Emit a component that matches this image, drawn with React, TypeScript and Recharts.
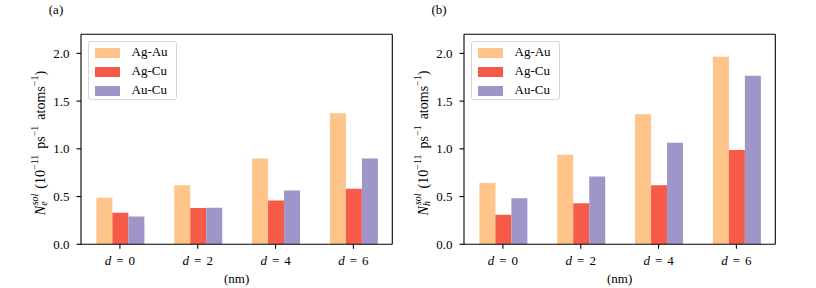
import React from "react";
import { BarChart, Bar, XAxis, YAxis } from "recharts";

const categories = ["0", "2", "4", "6"];
const seriesNames = ["Ag-Au", "Ag-Cu", "Au-Cu"];
const yTicks = [0, 0.5, 1.0, 1.5, 2.0];

// panel (a): electrons
const agAuE = [0.487, 0.619, 0.9, 1.374];
const agCuE = [0.33, 0.379, 0.459, 0.581];
const auCuE = [0.292, 0.383, 0.563, 0.9];

// panel (b): holes
const agAuH = [0.643, 0.939, 1.363, 1.965];
const agCuH = [0.31, 0.431, 0.619, 0.988];
const auCuH = [0.483, 0.71, 1.064, 1.767];

const colors = ["#fec48a", "#f65a48", "#9f95c9"];
const FONT = "'Liberation Serif', serif";

const buildRows = (a: number[], b: number[], c: number[]) =>
  categories.map((cat, i) => ({ cat, s0: a[i], s1: b[i], s2: c[i] }));

const XTick = (props: any) => {
  const { x, y, payload } = props;
  return (
    <text x={x} y={y} dy="0.71em" textAnchor="middle" fontFamily={FONT} fontSize={13} fill="#000">
      <tspan fontStyle="italic">d</tspan>
      <tspan dx={5}>=</tspan>
      <tspan dx={5}>{payload.value}</tspan>
    </text>
  );
};

const YTick = (props: any) => {
  const { x, y, payload } = props;
  return (
    <text x={x} y={y} dominantBaseline="central" textAnchor="end" fontFamily={FONT} fontSize={13} fill="#000">
      {Number(payload.value).toFixed(1)}
    </text>
  );
};

const LegendBox = () => (
  <div
    style={{
      position: "absolute",
      left: 87.5,
      top: 41,
      width: 87,
      height: 57,
      border: "1px solid #d6d6d6",
      borderRadius: 3,
      background: "rgba(255,255,255,0.85)",
      fontFamily: FONT,
      fontSize: 13,
    }}
  >
    {seriesNames.map((n, i) => (
      <div key={n} style={{ position: "absolute", left: 0, top: 5 + i * 18.8, height: 12, width: 87 }}>
        <div style={{ position: "absolute", left: 6, top: 1, width: 25, height: 10, background: colors[i] }} />
        <div style={{ position: "absolute", left: 43, top: -3, lineHeight: "16px", color: "#000" }}>{n}</div>
      </div>
    ))}
  </div>
);

interface PanelProps {
  left: number;
  tag: string;
  sub: string;
  rows: Array<{ cat: string; s0: number; s1: number; s2: number }>;
}

const Panel: React.FC<PanelProps> = ({ left, tag, sub, rows }) => (
  <div style={{ position: "absolute", left, top: 0, width: 400, height: 288 }}>
    <BarChart
      width={400}
      height={288}
      data={rows}
      margin={{ top: 33.3, right: 6.7, left: 41, bottom: 13.7 }}
      barCategoryGap="19.8%"
      barGap={0}
    >
      <XAxis
        dataKey="cat"
        height={30}
        stroke="#000"
        strokeWidth={1.1}
        tickSize={4.5}
        tickMargin={7}
        tick={<XTick />}
        label={{ value: "(nm)", position: "bottom", offset: -1, fontFamily: FONT, fontSize: 13, fill: "#000" }}
      />
      <XAxis xAxisId="top" dataKey="cat" orientation="top" height={1} tick={false} tickLine={false} stroke="#000" strokeWidth={1.1} />
      <YAxis
        width={40}
        domain={[0, 2.2]}
        ticks={yTicks}
        allowDataOverflow
        stroke="#000"
        strokeWidth={1.1}
        tickSize={4.5}
        tickMargin={7}
        tick={<YTick />}
      />
      <YAxis yAxisId="right" orientation="right" width={1} domain={[0, 2.2]} tick={false} tickLine={false} stroke="#000" strokeWidth={1.1} />
      {seriesNames.map((n, i) => (
        <Bar key={n} dataKey={`s${i}`} name={n} fill={colors[i]} isAnimationActive={false} />
      ))}
      <text x={56} y={9.5} dominantBaseline="central" textAnchor="middle" fontFamily={FONT} fontSize={13} fill="#000">
        {tag}
      </text>
      <text
        x={40}
        y={143}
        transform="rotate(-90, 40, 143)"
        textAnchor="middle"
        dominantBaseline="central"
        fontFamily={FONT}
        fontSize={14}
        fill="#000"
      >
        <tspan fontStyle="italic">N</tspan>
        <tspan fontSize={10} fontStyle="italic" dy={3}>{sub}</tspan>
        <tspan fontSize={10} fontStyle="italic" dx={-4} dy={-9}>sol</tspan>
        <tspan dy={6} dx={5}>(10</tspan>
        <tspan fontSize={10} dy={-6}>−11</tspan>
        <tspan dy={6} dx={6}>ps</tspan>
        <tspan fontSize={10} dy={-6}>−1</tspan>
        <tspan dy={6} dx={6}>atoms</tspan>
        <tspan fontSize={10} dy={-6}>−1</tspan>
        <tspan dy={6}>)</tspan>
      </text>
    </BarChart>
    <LegendBox />
  </div>
);

export default function App() {
  return (
    <div style={{ position: "absolute", left: 0, top: 0, width: 816, height: 288, background: "#fff" }}>
      <Panel left={0} tag="(a)" sub="e" rows={buildRows(agAuE, agCuE, auCuE)} />
      <Panel left={383} tag="(b)" sub="h" rows={buildRows(agAuH, agCuH, auCuH)} />
    </div>
  );
}
